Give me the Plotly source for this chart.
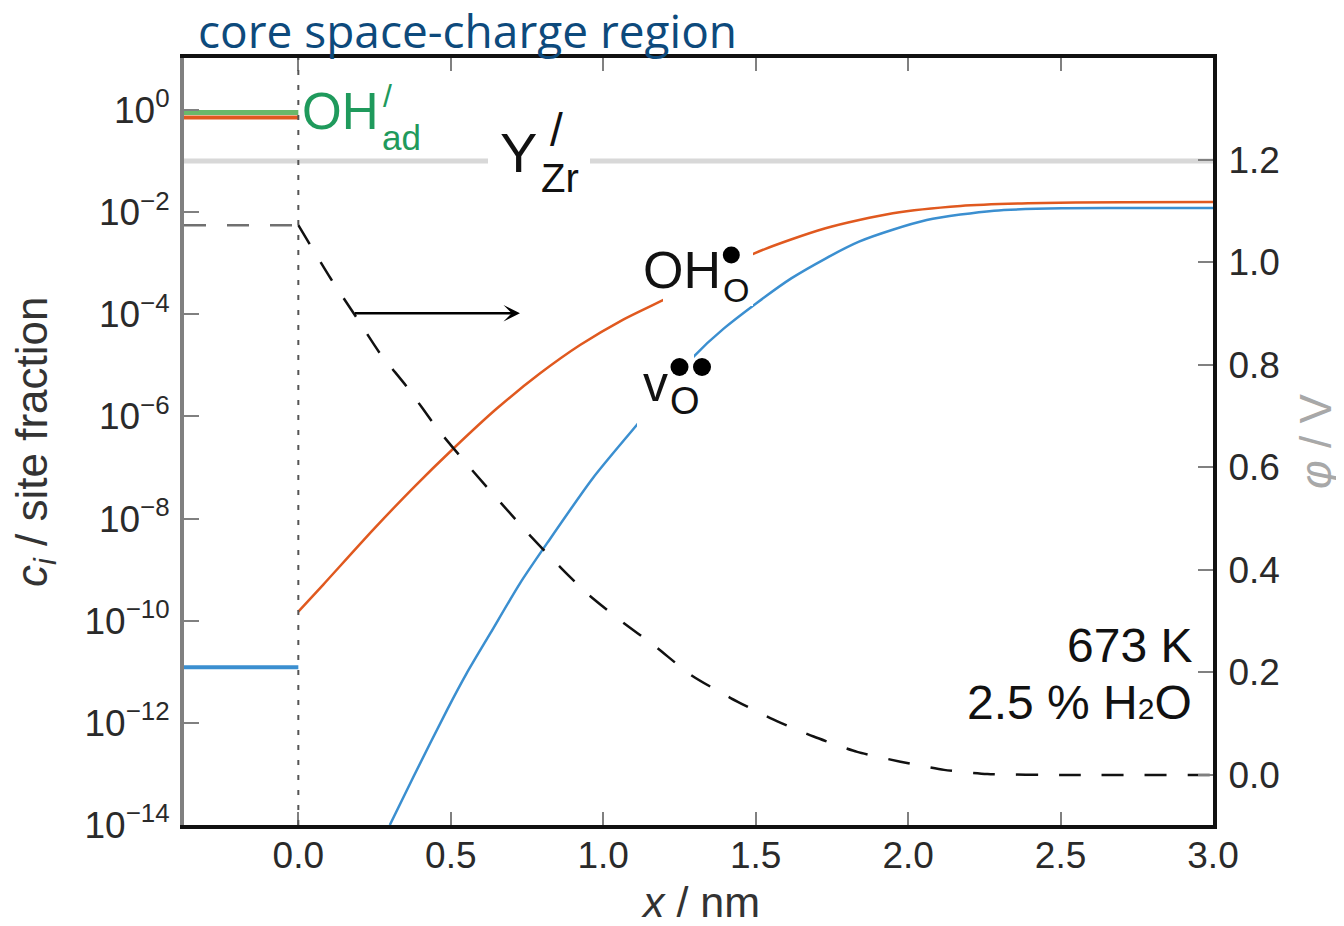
import plotly.graph_objects as go

# ---------------- data ----------------
x_core = [-0.375, 0.0]
c_OHad_core = [0.89, 0.89]
c_OHO_core = [0.71, 0.71]
c_vO_core = [1.23e-11, 1.23e-11]
phi_core = [1.072, 1.072]

x_Y = [-0.375, 3.0]
c_Y = [0.1, 0.1]

x_OHO = [0.0, 0.082, 0.245, 0.377, 0.507, 0.650, 0.792, 0.924, 1.064, 1.196,
         1.496, 1.729, 1.950, 2.172, 2.393, 2.70, 3.0]
c_OHO = [1.5e-10, 5.1e-10, 6.0e-9, 4.0e-8, 2.3e-7, 1.41e-6, 6.9e-6, 2.5e-5, 7.8e-5, 1.9e-4,
         1.56e-3, 4.83e-3, 9.5e-3, 1.32e-2, 1.49e-2, 1.57e-2, 1.58e-2]

x_vO = [0.30, 0.378, 0.488, 0.552, 0.630, 0.727, 0.816, 0.967, 1.110, 1.295,
        1.396, 1.618, 1.839, 2.061, 2.282, 2.505, 2.75, 3.0]
c_vO = [1.0e-14, 8.9e-14, 1.8e-12, 9.3e-12, 5.7e-11, 5.4e-10, 3.3e-9, 6.3e-8, 6.8e-7, 1.45e-5,
        5.3e-5, 5.1e-4, 2.64e-3, 7.0e-3, 1.07e-2, 1.19e-2, 1.2e-2, 1.2e-2]

x_phi = [0.0, 0.105, 0.193, 0.268, 0.356, 0.455, 0.553, 0.749, 0.858, 0.947, 1.055,
         1.172, 1.288, 1.418, 1.548, 1.690, 1.833, 1.975, 2.118, 2.260, 2.50, 3.0]
phi = [1.072, 0.969, 0.890, 0.822, 0.757, 0.676, 0.606, 0.474, 0.406, 0.354, 0.302,
       0.250, 0.195, 0.150, 0.111, 0.075, 0.045, 0.026, 0.010, 0.002, 0.0, 0.0]

xtick_vals = [0.0, 0.5, 1.0, 1.5, 2.0, 2.5, 3.0]
ytick_vals = [1e0, 1e-2, 1e-4, 1e-6, 1e-8, 1e-10, 1e-12, 1e-14]
ytick_text = ["10<sup>0</sup>", "10<sup>\u22122</sup>", "10<sup>\u22124</sup>", "10<sup>\u22126</sup>",
              "10<sup>\u22128</sup>", "10<sup>\u221210</sup>", "10<sup>\u221212</sup>", "10<sup>\u221214</sup>"]
y2tick_vals = [0.0, 0.2, 0.4, 0.6, 0.8, 1.0, 1.2]

# ---------------- styling ----------------
OFF = 8                      # page body margin of the html page
W, H = 1336, 918
ML, MR, MT, MB = 176, 131, 50, 101
PW, PH = W - ML - MR, H - MT - MB
FONT = "Liberation Sans"
ORANGE = "#e0591f"
BLUE = "#3b8fd0"
GREEN_LINE = "#6ab86a"
GREEN_TXT = "#1f9a5c"


def P(xp, yp):
    """page pixel -> paper coordinates"""
    return (xp - OFF - ML) / PW, (H - MB - (yp - OFF)) / PH


fig = go.Figure()

fig.add_trace(go.Scatter(x=x_Y, y=c_Y, mode="lines", line=dict(color="#d8d8d8", width=5)))
fig.add_trace(go.Scatter(x=x_core, y=c_OHad_core, mode="lines", line=dict(color=GREEN_LINE, width=5)))
fig.add_trace(go.Scatter(x=x_core, y=c_OHO_core, mode="lines", line=dict(color=ORANGE, width=4)))
fig.add_trace(go.Scatter(x=x_core, y=c_vO_core, mode="lines", line=dict(color=BLUE, width=4)))
fig.add_trace(go.Scatter(x=x_vO, y=c_vO, mode="lines",
                         line=dict(color=BLUE, width=2.5, shape="spline", smoothing=0.7)))
fig.add_trace(go.Scatter(x=x_OHO, y=c_OHO, mode="lines",
                         line=dict(color=ORANGE, width=2.5, shape="spline", smoothing=0.7)))
fig.add_trace(go.Scatter(x=x_core, y=phi_core, mode="lines", yaxis="y2",
                         line=dict(color="#707070", width=2.5, dash="22px,21px")))
fig.add_trace(go.Scatter(x=x_phi, y=phi, mode="lines", yaxis="y2",
                         line=dict(color="#111111", width=2.5, dash="22px,21px", shape="spline", smoothing=0.6)))

shapes = []
# vertical dotted boundary at x = 0
shapes.append(dict(type="line", xref="x", yref="paper", x0=0, x1=0, y0=0, y1=1,
                   line=dict(color="#555555", width=2, dash="5px,10px"), layer="above"))
# white boxes behind the labels
for (a, b, c, d) in [(488, 150, 590, 172), (663, 238, 753, 306), (637, 350, 694, 432)]:
    x0, y0 = P(a, d)
    x1, y1 = P(c, b)
    shapes.append(dict(type="rect", xref="paper", yref="paper", x0=x0, x1=x1, y0=y0, y1=y1,
                       fillcolor="white", line=dict(width=0), layer="above"))
# bullet dots of the Kroger-Vink labels
for (cx, cy, dia) in [(731.3, 255, 17), (679.5, 367, 18), (702, 367, 18)]:
    px_, py_ = P(cx, cy)
    shapes.append(dict(type="circle", xref="paper", yref="paper", xsizemode="pixel", ysizemode="pixel",
                       xanchor=px_, yanchor=py_, x0=-dia / 2, x1=dia / 2, y0=-dia / 2, y1=dia / 2,
                       fillcolor="black", line=dict(width=0), layer="above"))

ann = []


def txt(s, xp, yp, size, color="#111111", xanchor="left", family=FONT, angle=0):
    x, y = P(xp, yp)
    ann.append(dict(text=s, x=x, y=y, xref="paper", yref="paper", xanchor=xanchor, yanchor="middle",
                    showarrow=False, textangle=angle, font=dict(family=family, size=size, color=color)))


txt("core space-charge region", 196, 30, 46, color="#0d4a7c", family="Open Sans")
txt("OH", 300, 112, 51, color=GREEN_TXT)
txt("/", 387, 96, 32, color=GREEN_TXT, xanchor="center")
txt("ad", 380, 137, 35, color=GREEN_TXT)
txt("Y", 498, 152.5, 56)
txt("/", 556, 130, 46, xanchor="center")
txt("Zr", 539, 178, 40)
txt("OH", 641, 270, 52)
txt("O", 721, 290, 34)
txt("v", 641, 384, 50)
txt("O", 668, 401, 38)
txt("673 K", 1194, 645, 48, xanchor="right")
txt('2.5 % H<span style="font-size:30px">2</span>O', 1194, 702.5, 48, xanchor="right")
# axis titles
txt("<i>c</i><sub><i>i</i></sub> / site fraction", 35, 442, 44, color="#333333", xanchor="center", angle=-90)
txt("<i>x</i> / nm", 700, 902, 43, color="#333333", xanchor="center")
txt("<i>\u03c6</i> / V", 1316, 442, 44, color="#a8a8a8", xanchor="center", angle=-90)

# arrow
hx, hy = P(520, 313.3)
ann.append(dict(text="", x=hx, y=hy, xref="paper", yref="paper", ax=-166.7, ay=0, showarrow=True,
                arrowhead=3, arrowsize=1.1, arrowwidth=2.5, arrowcolor="black", standoff=0))

tickfont = dict(family=FONT, size=37, color="#2a2a2a")

fig.update_layout(
    width=W, height=H, margin=dict(l=ML, r=MR, t=MT, b=MB),
    paper_bgcolor="white", plot_bgcolor="white", showlegend=False,
    shapes=shapes, annotations=ann,
    xaxis=dict(range=[-0.375, 3.0], tickvals=xtick_vals, tickformat=".1f", ticks="inside", ticklen=13,
               tickwidth=2, tickcolor="#808080", showline=True, linecolor="#111111", linewidth=4,
               mirror="ticks", showgrid=False, zeroline=False, tickfont=tickfont, ticklabelstandoff=-5),
    yaxis=dict(type="log", range=[-14, 1.018], tickvals=ytick_vals, ticktext=ytick_text, ticks="inside",
               ticklen=15, tickwidth=2, tickcolor="#808080", showline=True, linecolor="#808080", linewidth=4,
               showgrid=False, zeroline=False, tickfont=tickfont, ticklabelstandoff=3),
    yaxis2=dict(range=[-0.0975, 1.398], overlaying="y", side="right", tickvals=y2tick_vals, tickformat=".1f",
                ticks="inside", ticklen=15, tickwidth=2, tickcolor="#808080", showline=True,
                linecolor="#111111", linewidth=4, showgrid=False, zeroline=False, tickfont=tickfont,
                ticklabelstandoff=4),
)

fig.write_html("out.html")
